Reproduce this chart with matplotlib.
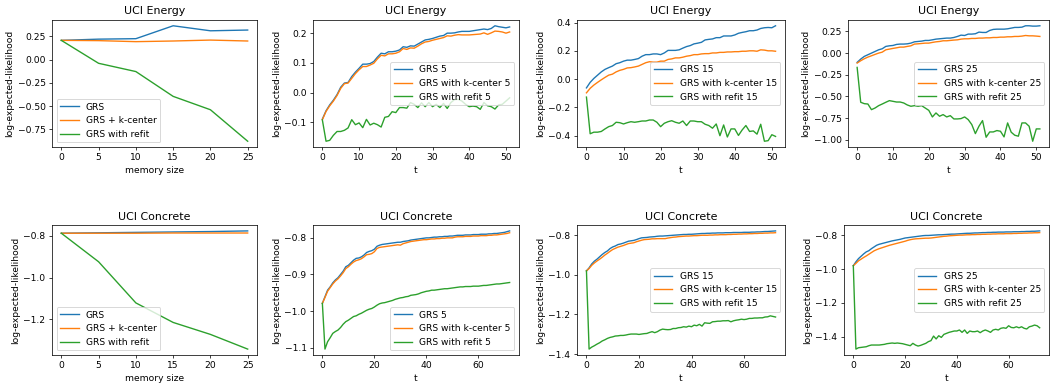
import numpy as np
import matplotlib
matplotlib.use("Agg")
import matplotlib.pyplot as plt

# ---------------------------------------------------------------------------
# Data
# ---------------------------------------------------------------------------

memory_size = [0, 5, 10, 15, 20, 25]

energy_mem_grs     = [0.207, 0.220, 0.225, 0.364, 0.310, 0.318]
energy_mem_kcenter = [0.207, 0.204, 0.193, 0.200, 0.210, 0.200]
energy_mem_refit   = [0.207, -0.040, -0.129, -0.396, -0.540, -0.879]

concrete_mem_grs     = [-0.789, -0.787, -0.785, -0.783, -0.781, -0.778]
concrete_mem_kcenter = [-0.789, -0.789, -0.789, -0.788, -0.788, -0.788]
concrete_mem_refit   = [-0.789, -0.925, -1.121, -1.214, -1.271, -1.341]

energy_t = list(range(52))
concrete_t = list(range(73))

energy_grs_5 = [
    -0.090, -0.062, -0.042, -0.026, -0.007, 0.018, 0.032, 0.034, 0.054, 0.069,
    0.082, 0.096, 0.096, 0.098, 0.105, 0.120, 0.133, 0.131, 0.138, 0.138,
    0.140, 0.144, 0.155, 0.153, 0.158, 0.157, 0.164, 0.171, 0.178, 0.180,
    0.183, 0.187, 0.191, 0.193, 0.201, 0.201, 0.202, 0.205, 0.207, 0.207,
    0.207, 0.209, 0.211, 0.213, 0.215, 0.213, 0.217, 0.226, 0.223, 0.221,
    0.219, 0.222]
energy_kc_5 = [
    -0.092, -0.064, -0.045, -0.029, -0.010, 0.014, 0.030, 0.032, 0.048, 0.064,
    0.077, 0.088, 0.088, 0.093, 0.099, 0.114, 0.126, 0.124, 0.131, 0.131,
    0.133, 0.138, 0.149, 0.146, 0.151, 0.150, 0.157, 0.165, 0.171, 0.173,
    0.177, 0.180, 0.183, 0.186, 0.192, 0.191, 0.194, 0.196, 0.195, 0.195,
    0.195, 0.196, 0.197, 0.198, 0.202, 0.197, 0.202, 0.208, 0.207, 0.205,
    0.201, 0.205]
energy_refit_5 = [
    -0.093, -0.165, -0.162, -0.145, -0.132, -0.132, -0.128, -0.120, -0.092, -0.109,
    -0.103, -0.119, -0.091, -0.110, -0.104, -0.109, -0.117, -0.084, -0.081, -0.065,
    -0.068, -0.051, -0.051, -0.053, -0.034, -0.040, -0.051, -0.035, -0.048, -0.034,
    -0.048, -0.040, -0.051, -0.037, -0.054, -0.034, -0.024, -0.023, -0.029, -0.040,
    -0.048, -0.046, -0.048, -0.057, -0.034, -0.045, -0.048, -0.056, -0.042, -0.040,
    -0.029, -0.018]

energy_grs_15 = [
    -0.062, -0.023, 0.005, 0.028, 0.051, 0.069, 0.081, 0.092, 0.109, 0.116,
    0.127, 0.134, 0.134, 0.139, 0.145, 0.162, 0.173, 0.173, 0.178, 0.178,
    0.173, 0.185, 0.203, 0.203, 0.203, 0.207, 0.219, 0.230, 0.237, 0.249,
    0.254, 0.260, 0.277, 0.281, 0.284, 0.293, 0.293, 0.305, 0.305, 0.305,
    0.312, 0.324, 0.330, 0.335, 0.342, 0.342, 0.347, 0.358, 0.363, 0.365,
    0.363, 0.377]
energy_kc_15 = [
    -0.097, -0.065, -0.042, -0.023, -0.005, 0.012, 0.028, 0.035, 0.051, 0.062,
    0.069, 0.079, 0.081, 0.086, 0.092, 0.104, 0.116, 0.123, 0.120, 0.120,
    0.127, 0.127, 0.139, 0.143, 0.150, 0.150, 0.155, 0.162, 0.166, 0.173,
    0.173, 0.178, 0.180, 0.180, 0.185, 0.185, 0.189, 0.189, 0.192, 0.192,
    0.194, 0.194, 0.197, 0.197, 0.200, 0.200, 0.197, 0.207, 0.205, 0.200,
    0.200, 0.197]
energy_refit_15 = [
    -0.127, -0.386, -0.375, -0.375, -0.370, -0.352, -0.336, -0.328, -0.305, -0.308,
    -0.317, -0.308, -0.301, -0.305, -0.301, -0.296, -0.296, -0.289, -0.289, -0.305,
    -0.336, -0.312, -0.301, -0.294, -0.305, -0.312, -0.296, -0.328, -0.296, -0.296,
    -0.301, -0.301, -0.319, -0.328, -0.347, -0.317, -0.400, -0.324, -0.409, -0.352,
    -0.352, -0.398, -0.359, -0.328, -0.370, -0.366, -0.389, -0.319, -0.439, -0.435,
    -0.393, -0.405]

energy_grs_25 = [
    -0.107, -0.069, -0.038, -0.019, 0.000, 0.019, 0.038, 0.050, 0.077, 0.084,
    0.088, 0.100, 0.104, 0.104, 0.107, 0.115, 0.130, 0.134, 0.138, 0.146,
    0.146, 0.153, 0.161, 0.165, 0.169, 0.173, 0.173, 0.180, 0.192, 0.207,
    0.203, 0.219, 0.219, 0.223, 0.242, 0.238, 0.238, 0.261, 0.273, 0.276,
    0.276, 0.276, 0.280, 0.288, 0.296, 0.296, 0.299, 0.315, 0.315, 0.311,
    0.311, 0.315]
energy_kc_25 = [
    -0.115, -0.088, -0.065, -0.046, -0.031, -0.015, 0.000, 0.011, 0.038, 0.046,
    0.054, 0.061, 0.069, 0.069, 0.077, 0.084, 0.104, 0.107, 0.111, 0.115,
    0.115, 0.123, 0.130, 0.134, 0.142, 0.142, 0.146, 0.150, 0.153, 0.161,
    0.165, 0.165, 0.169, 0.169, 0.173, 0.173, 0.176, 0.176, 0.180, 0.180,
    0.184, 0.184, 0.188, 0.188, 0.192, 0.192, 0.196, 0.203, 0.199, 0.199,
    0.196, 0.192]
energy_refit_25 = [
    -0.165, -0.567, -0.583, -0.587, -0.652, -0.633, -0.606, -0.587, -0.567, -0.548,
    -0.556, -0.564, -0.564, -0.575, -0.598, -0.613, -0.606, -0.613, -0.606, -0.633,
    -0.660, -0.736, -0.690, -0.728, -0.709, -0.736, -0.721, -0.759, -0.759, -0.755,
    -0.736, -0.767, -0.824, -0.928, -0.843, -0.778, -0.970, -0.909, -0.909, -0.893,
    -0.901, -0.966, -0.805, -0.912, -0.947, -0.958, -0.805, -0.805, -0.843, -1.016,
    -0.874, -0.874]

concrete_grs_5 = [
    -0.979, -0.961, -0.943, -0.934, -0.923, -0.915, -0.909, -0.900, -0.891, -0.879,
    -0.875, -0.868, -0.861, -0.856, -0.855, -0.852, -0.847, -0.840, -0.837, -0.835,
    -0.831, -0.823, -0.820, -0.818, -0.817, -0.816, -0.815, -0.814, -0.813, -0.812,
    -0.812, -0.810, -0.809, -0.808, -0.806, -0.805, -0.804, -0.803, -0.802, -0.801,
    -0.800, -0.800, -0.799, -0.798, -0.798, -0.797, -0.797, -0.796, -0.796, -0.795,
    -0.795, -0.794, -0.793, -0.793, -0.793, -0.792, -0.792, -0.792, -0.791, -0.791,
    -0.791, -0.790, -0.790, -0.790, -0.789, -0.789, -0.788, -0.788, -0.787, -0.786,
    -0.785, -0.783, -0.781]
concrete_kc_5 = [
    -0.979, -0.963, -0.946, -0.936, -0.926, -0.918, -0.912, -0.904, -0.895, -0.884,
    -0.879, -0.872, -0.866, -0.862, -0.860, -0.857, -0.852, -0.846, -0.845, -0.843,
    -0.838, -0.829, -0.826, -0.825, -0.824, -0.823, -0.822, -0.821, -0.820, -0.819,
    -0.820, -0.816, -0.814, -0.812, -0.810, -0.809, -0.808, -0.807, -0.806, -0.805,
    -0.805, -0.804, -0.803, -0.803, -0.802, -0.802, -0.801, -0.801, -0.800, -0.800,
    -0.800, -0.798, -0.797, -0.797, -0.797, -0.796, -0.796, -0.796, -0.795, -0.795,
    -0.795, -0.794, -0.794, -0.794, -0.793, -0.793, -0.792, -0.792, -0.791, -0.790,
    -0.789, -0.788, -0.786]
concrete_refit_5 = [
    -0.979, -1.104, -1.084, -1.073, -1.061, -1.056, -1.052, -1.045, -1.036, -1.029,
    -1.025, -1.020, -1.015, -1.013, -1.009, -1.006, -1.002, -0.998, -0.995, -0.993,
    -0.989, -0.984, -0.980, -0.978, -0.977, -0.975, -0.973, -0.971, -0.968, -0.966,
    -0.964, -0.963, -0.961, -0.960, -0.957, -0.956, -0.955, -0.953, -0.950, -0.948,
    -0.946, -0.945, -0.943, -0.943, -0.942, -0.941, -0.940, -0.939, -0.939, -0.938,
    -0.937, -0.936, -0.935, -0.934, -0.934, -0.933, -0.933, -0.933, -0.932, -0.932,
    -0.932, -0.931, -0.930, -0.930, -0.929, -0.928, -0.927, -0.926, -0.926, -0.925,
    -0.924, -0.923, -0.922]

concrete_grs_15 = [
    -0.980, -0.965, -0.945, -0.931, -0.921, -0.909, -0.897, -0.887, -0.879, -0.867,
    -0.859, -0.854, -0.847, -0.844, -0.840, -0.835, -0.830, -0.828, -0.826, -0.822,
    -0.817, -0.813, -0.812, -0.811, -0.809, -0.808, -0.807, -0.805, -0.804, -0.804,
    -0.803, -0.802, -0.801, -0.800, -0.799, -0.798, -0.797, -0.796, -0.796, -0.795,
    -0.795, -0.794, -0.793, -0.792, -0.791, -0.791, -0.790, -0.790, -0.789, -0.789,
    -0.788, -0.788, -0.788, -0.787, -0.787, -0.787, -0.786, -0.786, -0.786, -0.786,
    -0.785, -0.785, -0.785, -0.784, -0.784, -0.783, -0.783, -0.782, -0.781, -0.781,
    -0.780, -0.779, -0.778]
concrete_kc_15 = [
    -0.980, -0.968, -0.952, -0.940, -0.930, -0.921, -0.911, -0.900, -0.891, -0.881,
    -0.872, -0.866, -0.860, -0.856, -0.852, -0.847, -0.842, -0.840, -0.838, -0.833,
    -0.829, -0.825, -0.822, -0.821, -0.820, -0.818, -0.818, -0.817, -0.817, -0.817,
    -0.817, -0.814, -0.812, -0.810, -0.809, -0.807, -0.806, -0.805, -0.804, -0.804,
    -0.803, -0.802, -0.802, -0.801, -0.800, -0.800, -0.800, -0.799, -0.799, -0.798,
    -0.798, -0.797, -0.797, -0.797, -0.796, -0.796, -0.795, -0.795, -0.794, -0.794,
    -0.793, -0.793, -0.792, -0.792, -0.791, -0.791, -0.790, -0.790, -0.789, -0.789,
    -0.788, -0.788, -0.787]
concrete_refit_15 = [
    -0.980, -1.375, -1.365, -1.358, -1.350, -1.343, -1.334, -1.328, -1.321, -1.316,
    -1.313, -1.309, -1.308, -1.306, -1.306, -1.304, -1.301, -1.299, -1.299, -1.299,
    -1.301, -1.299, -1.297, -1.296, -1.291, -1.287, -1.292, -1.287, -1.279, -1.274,
    -1.276, -1.277, -1.276, -1.271, -1.271, -1.267, -1.266, -1.262, -1.264, -1.259,
    -1.262, -1.254, -1.257, -1.250, -1.259, -1.242, -1.244, -1.245, -1.237, -1.236,
    -1.234, -1.234, -1.232, -1.232, -1.231, -1.237, -1.232, -1.229, -1.227, -1.224,
    -1.226, -1.224, -1.220, -1.220, -1.218, -1.218, -1.217, -1.217, -1.213, -1.212,
    -1.207, -1.210, -1.213]

concrete_grs_25 = [
    -0.980, -0.957, -0.938, -0.924, -0.910, -0.898, -0.891, -0.879, -0.869, -0.859,
    -0.853, -0.849, -0.845, -0.841, -0.837, -0.833, -0.830, -0.827, -0.824, -0.820,
    -0.816, -0.814, -0.812, -0.810, -0.808, -0.806, -0.804, -0.802, -0.801, -0.801,
    -0.800, -0.799, -0.798, -0.797, -0.797, -0.796, -0.795, -0.794, -0.793, -0.793,
    -0.792, -0.791, -0.790, -0.789, -0.788, -0.788, -0.787, -0.786, -0.786, -0.785,
    -0.784, -0.784, -0.783, -0.783, -0.782, -0.782, -0.781, -0.781, -0.781, -0.780,
    -0.780, -0.780, -0.779, -0.779, -0.779, -0.778, -0.778, -0.777, -0.777, -0.776,
    -0.776, -0.775, -0.774]
concrete_kc_25 = [
    -0.980, -0.966, -0.951, -0.941, -0.931, -0.922, -0.912, -0.902, -0.892, -0.885,
    -0.879, -0.874, -0.869, -0.864, -0.859, -0.855, -0.851, -0.847, -0.843, -0.839,
    -0.835, -0.830, -0.826, -0.823, -0.821, -0.820, -0.819, -0.818, -0.817, -0.817,
    -0.816, -0.814, -0.812, -0.810, -0.808, -0.806, -0.805, -0.803, -0.802, -0.801,
    -0.800, -0.799, -0.799, -0.798, -0.797, -0.797, -0.796, -0.796, -0.795, -0.795,
    -0.794, -0.794, -0.793, -0.793, -0.792, -0.792, -0.791, -0.791, -0.791, -0.790,
    -0.790, -0.790, -0.789, -0.789, -0.788, -0.788, -0.787, -0.787, -0.786, -0.786,
    -0.785, -0.785, -0.784]
concrete_refit_25 = [
    -0.980, -1.473, -1.465, -1.463, -1.461, -1.459, -1.453, -1.449, -1.449, -1.449,
    -1.449, -1.447, -1.445, -1.441, -1.439, -1.437, -1.439, -1.437, -1.439, -1.441,
    -1.445, -1.449, -1.453, -1.439, -1.449, -1.455, -1.451, -1.445, -1.439, -1.429,
    -1.423, -1.396, -1.413, -1.394, -1.404, -1.386, -1.380, -1.374, -1.370, -1.366,
    -1.366, -1.360, -1.374, -1.360, -1.380, -1.366, -1.370, -1.370, -1.366, -1.376,
    -1.366, -1.360, -1.366, -1.374, -1.360, -1.356, -1.360, -1.350, -1.347, -1.350,
    -1.335, -1.345, -1.347, -1.341, -1.347, -1.341, -1.350, -1.354, -1.341, -1.337,
    -1.331, -1.335, -1.347]

# ---------------------------------------------------------------------------
# Layout: axes boxes in pixels (left, right, top, bottom) of a 1050x383 canvas
# ---------------------------------------------------------------------------

W, H = 1050, 383
DPI = 66

boxes = [
    (52, 257, 20, 147), (313, 519, 20, 147), (577, 785, 20, 147), (848, 1049, 20, 147),
    (52, 257, 225, 355), (313, 519, 225, 355), (577, 785, 225, 355), (844, 1049, 225, 355),
]

fig = plt.figure(figsize=(W / DPI, H / DPI), dpi=DPI)
axes = []
for l, r, t, b in boxes:
    axes.append(fig.add_axes([l / W, 1 - b / H, (r - l) / W, (b - t) / H]))


def mem_panel(ax, title, grs, kc, refit):
    ax.plot(memory_size, grs, label='GRS')
    ax.plot(memory_size, kc, label='GRS + k-center')
    ax.plot(memory_size, refit, label='GRS with refit')
    ax.set_title(title)
    ax.set_xlabel('memory size')
    ax.set_ylabel('log-expected-likelihood')
    ax.legend(loc='lower left')


def t_panel(ax, title, t, grs, kc, refit, m, loc):
    ax.plot(t, grs, label=f'GRS {m}')
    ax.plot(t, kc, label=f'GRS with k-center {m}')
    ax.plot(t, refit, label=f'GRS with refit {m}')
    ax.set_title(title)
    ax.set_xlabel('t')
    ax.set_ylabel('log-expected-likelihood')
    ax.legend(loc=loc)


mem_panel(axes[0], 'UCI Energy', energy_mem_grs, energy_mem_kcenter, energy_mem_refit)
t_panel(axes[1], 'UCI Energy', energy_t, energy_grs_5, energy_kc_5, energy_refit_5, 5, 'center right')
t_panel(axes[2], 'UCI Energy', energy_t, energy_grs_15, energy_kc_15, energy_refit_15, 15, 'center right')
t_panel(axes[3], 'UCI Energy', energy_t, energy_grs_25, energy_kc_25, energy_refit_25, 25, 'center right')

mem_panel(axes[4], 'UCI Concrete', concrete_mem_grs, concrete_mem_kcenter, concrete_mem_refit)
t_panel(axes[5], 'UCI Concrete', concrete_t, concrete_grs_5, concrete_kc_5, concrete_refit_5, 5, 'lower right')
t_panel(axes[6], 'UCI Concrete', concrete_t, concrete_grs_15, concrete_kc_15, concrete_refit_15, 15, 'center right')
t_panel(axes[7], 'UCI Concrete', concrete_t, concrete_grs_25, concrete_kc_25, concrete_refit_25, 25, 'center right')

axes[4].set_yticks([-0.8, -1.0, -1.2])
axes[6].set_yticks([-0.8, -1.0, -1.2, -1.4])

fig.savefig('out.png', dpi=DPI)
